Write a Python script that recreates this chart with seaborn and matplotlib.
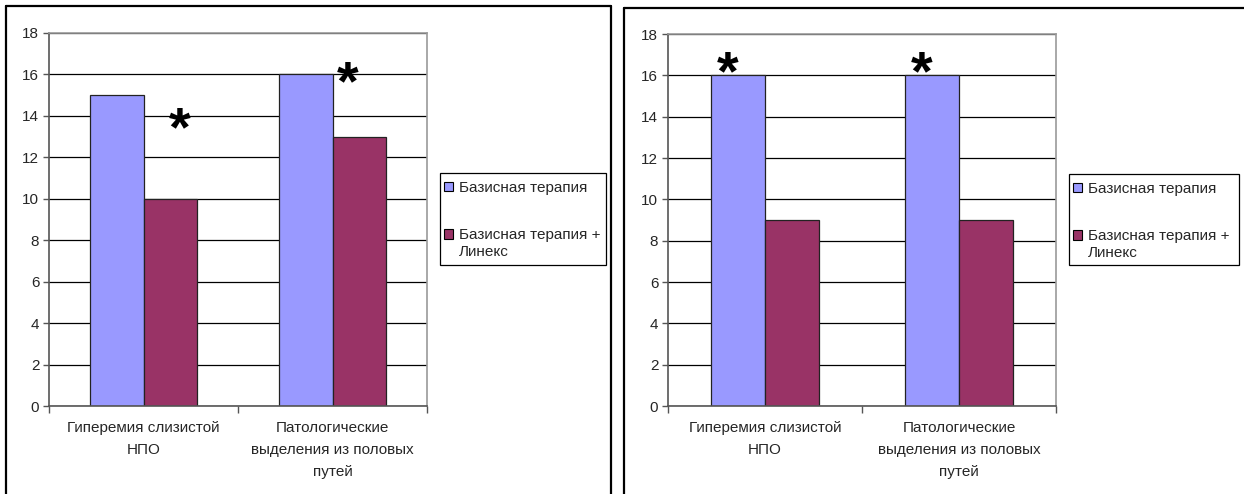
import numpy as np
import pandas as pd
import seaborn as sns
import matplotlib.pyplot as plt
from matplotlib.lines import Line2D
from matplotlib.patches import Patch, Rectangle
from matplotlib.legend_handler import HandlerPatch

# --- data -------------------------------------------------------------
categories = ["Гиперемия слизистой\nНПО",
              "Патологические\nвыделения из половых\nпутей"]
series_names = ["Базисная терапия", "Базисная терапия +\nЛинекс"]
left_base = [15, 16]
left_linex = [10, 13]
right_base = [16, 16]
right_linex = [9, 9]
y_ticks = list(range(0, 19, 2))
colors = ["#9999FF", "#993366"]

sns.set_theme(style="white")
plt.rcParams["font.family"] = ["Liberation Sans", "DejaVu Sans"]

FS = 11
W, H = 1244, 494
fig = plt.figure(figsize=(W / 100, H / 100), dpi=100)


def px_rect(x0, y0, x1, y1):
    return [x0 / W, 1 - y1 / H, (x1 - x0) / W, (y1 - y0) / H]


def make_frame(base, linex):
    return pd.DataFrame({
        "cat": categories * 2,
        "series": [series_names[0]] * 2 + [series_names[1]] * 2,
        "val": list(base) + list(linex),
    })


def draw_panel(ax, base, linex, width, stars):
    df = make_frame(base, linex)
    sns.barplot(data=df, x="cat", y="val", hue="series",
                order=categories, hue_order=series_names,
                palette=colors, saturation=1, width=width,
                edgecolor="#222222", linewidth=0.9, legend=False, ax=ax)
    ax.set_xlim(-0.5, 1.5)
    ax.set_ylim(0, 18)
    ax.set_yticks(y_ticks)
    ax.set_xlabel("")
    ax.set_ylabel("")
    ax.set_axisbelow(True)
    ax.yaxis.grid(True, color="black", linewidth=0.9)
    ax.xaxis.grid(False)
    for side in ("top", "right"):
        ax.spines[side].set_color("#9a9a9a")
        ax.spines[side].set_linewidth(1.2)
    for side in ("left", "bottom"):
        ax.spines[side].set_color("#555555")
        ax.spines[side].set_linewidth(1.2)
    ax.tick_params(axis="y", which="major", direction="out", length=4,
                   width=1, color="#555555", labelsize=FS, pad=3,
                   left=True)
    ax.set_xticks(range(len(categories)))
    ax.set_xticklabels(categories, fontsize=FS, linespacing=1.7,
                       multialignment="center")
    ax.tick_params(axis="x", which="major", length=0, pad=11)
    ax.set_xticks([-0.5, 0.5, 1.5], minor=True)
    ax.tick_params(axis="x", which="minor", direction="out", length=5,
                   width=1, color="#555555", bottom=True)
    for (sx, sy) in stars:
        ax.text(sx, sy, "*", ha="center", va="center", fontsize=40,
                fontweight="bold", color="black")


axL = fig.add_axes(px_rect(49, 33, 427, 406))
draw_panel(axL, left_base, left_linex, 0.57,
           [(0.19, 13.25), (1.08, 15.5)])

axR = fig.add_axes(px_rect(668, 34, 1056, 406))
draw_panel(axR, right_base, right_linex, 0.56,
           [(-0.19, 16.0), (0.81, 16.0)])


def square_at(shift):
    # legend key drawn as a small square, raised to the first text line
    def make(legend, orig_handle, xdescent, ydescent, width, height,
             fontsize):
        return Rectangle((-xdescent, -ydescent + shift), width, height)
    return make


# legend boxes: (left, top, right, bottom) in pixels
for (bx0, by0, bx1, by1) in [(440, 173, 606, 265), (1069, 174, 1239, 265)]:
    fig.add_artist(Rectangle((bx0 / W, 1 - by1 / H),
                             (bx1 - bx0) / W, (by1 - by0) / H,
                             transform=fig.transFigure, facecolor="white",
                             edgecolor="black", linewidth=0.9, zorder=3))
    handles = [Patch(facecolor=c, edgecolor="black", linewidth=0.8)
               for c in colors]
    leg = fig.legend(handles=handles, labels=series_names,
                     loc="upper left",
                     bbox_to_anchor=((bx0 + 4) / W, 1 - (by0 + 8) / H),
                     frameon=False, fontsize=FS,
                     handlelength=0.6, handleheight=0.6,
                     handletextpad=0.35, labelspacing=2.15,
                     borderpad=0, borderaxespad=0,
                     handler_map={handles[0]: HandlerPatch(patch_func=square_at(0)),
                                  handles[1]: HandlerPatch(patch_func=square_at(6.6))})
    leg.set_zorder(4)
    for t in leg.get_texts():
        t.set_linespacing(1.25)

# panel frames
frame_kw = dict(color="black", linewidth=1.6, transform=fig.transFigure)
fig.add_artist(Line2D([6 / W, 6 / W], [1 - 6 / H, 0], **frame_kw))
fig.add_artist(Line2D([6 / W, 611 / W], [1 - 6 / H, 1 - 6 / H], **frame_kw))
fig.add_artist(Line2D([611 / W, 611 / W], [1 - 6 / H, 0], **frame_kw))
fig.add_artist(Line2D([624 / W, 624 / W], [1 - 8 / H, 0], **frame_kw))
fig.add_artist(Line2D([624 / W, 1 - 0.5 / W], [1 - 8 / H, 1 - 8 / H], **frame_kw))

fig.savefig("out.png", dpi=100, facecolor="white")
